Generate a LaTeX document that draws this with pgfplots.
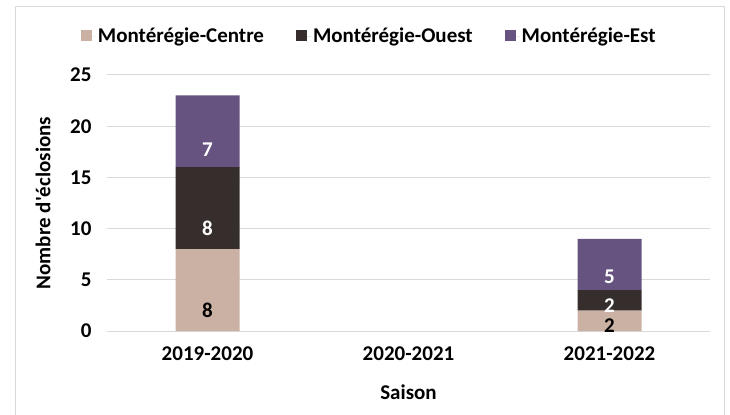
\documentclass[border=0pt]{standalone}
\usepackage{pgfplots}
\pgfplotsset{compat=1.18}
\usepackage{fontspec}
\setmainfont{Carlito}
\definecolor{cA}{HTML}{CBB1A3}
\definecolor{cB}{HTML}{352E2C}
\definecolor{cC}{HTML}{66537F}
\definecolor{gridc}{HTML}{D9D9D9}
\newcommand{\F}{\fontsize{21bp}{23bp}\selectfont\bfseries}
\begin{document}
\begin{tikzpicture}[x=1bp,y=1bp]
\path[use as bounding box] (0,0) rectangle (730,414);
\draw[gridc, line width=1bp] (15,-10) rectangle (724,407);
\begin{axis}[
  at={(107bp,83bp)}, anchor=south west,
  scale only axis, width=603bp, height=256bp,
  ybar stacked, bar width=64bp,
  xmin=-0.5, xmax=2.5, ymin=0, ymax=25,
  xtick={0,1,2}, xticklabels={2019-2020,2020-2021,2021-2022},
  ytick={0,5,...,25},
  /pgf/number format/assume math mode=true,
  major tick length=0pt,
  axis x line*=bottom, axis y line*=left,
  separate axis lines,
  x axis line style={draw=gridc, line width=1bp, -},
  y axis line style={draw=none},
  ymajorgrids, grid style={draw=gridc, line width=1bp},
  tick label style={font=\F},
  yticklabel style={xshift=-12bp},
  xticklabel style={yshift=-12bp},
  xlabel={Saison}, ylabel={Nombre d\textquotesingle éclosions},
  label style={font=\F},
  xlabel style={at={(axis description cs:0.5,-0.238)}, anchor=center},
  ylabel style={at={(axis description cs:-0.106,0.5)}, anchor=center},
  legend style={at={(axis description cs:0.435,1.152)}, anchor=center,
    draw=none, fill=none, legend columns=3,
    font=\F,
    /tikz/every even column/.append style={column sep=30bp}},
  legend image code/.code={\fill[#1,draw=none] (0bp,-5bp) rectangle (11bp,6bp); \path (0bp,0bp) -- (15bp,0bp);},
  visualization depends on={rawy \as \rawy},
  nodes near coords,
  every node near coord/.append style={anchor=center, yshift=-\rawy*2.56bp,
     font=\F},
]
\addplot[fill=cA, draw=none, every node near coord/.append style={text=black}]
  coordinates {(0,8) (2,2)};
\addplot[fill=cB, draw=none, every node near coord/.append style={text=white}]
  coordinates {(0,8) (2,2)};
\addplot[fill=cC, draw=none, every node near coord/.append style={text=white}]
  coordinates {(0,7) (2,5)};
\legend{Montérégie-Centre, Montérégie-Ouest, Montérégie-Est}
\end{axis}
\end{tikzpicture}
\end{document}
